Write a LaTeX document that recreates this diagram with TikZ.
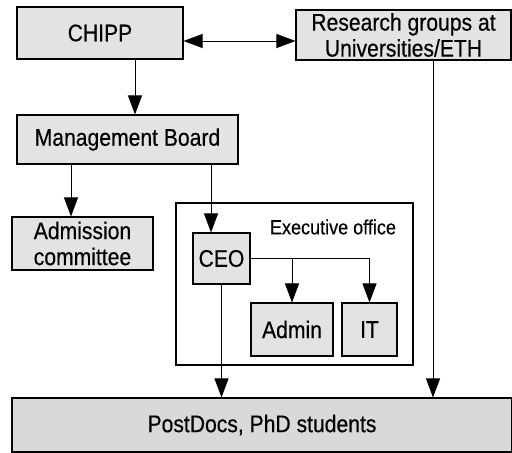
\documentclass[tikz,border=0pt]{standalone}
\usepackage{fontspec}
\setmainfont{Liberation Sans}[FakeStretch=0.88,FakeBold=0.4]
\usetikzlibrary{arrows.meta}
\begin{document}
\begin{tikzpicture}[x=1pt,y=-1pt,
  box/.style={draw=black,line width=1.1pt,fill=gray!22,inner sep=0pt,align=center,
    font=\fontsize{24}{26}\selectfont},
  conn/.style={line width=0.9pt,-{Triangle[width=14pt,length=19pt]}},
  dconn/.style={line width=0.9pt,{Triangle[width=14pt,length=19pt]}-{Triangle[width=14pt,length=19pt]}}]
\useasboundingbox (0,0) rectangle (512,453);
\node[box,minimum width=166pt,minimum height=52pt] (chipp) at (100,33) {CHIPP};
\node[box,minimum width=215pt,minimum height=50pt] (research) at (403.5,35) {Research groups at\\Universities/ETH};
\node[box,minimum width=221pt,minimum height=49pt] (mb) at (127.5,139.5) {Management Board};
\node[box,minimum width=141pt,minimum height=53pt] (adm) at (82.5,243.5) {Admission\\committee};
\node[draw=black,line width=2pt,minimum width=237pt,minimum height=162pt,inner sep=0pt] (exec) at (294.5,284) {};
\node[font=\fontsize{20.5}{23}\selectfont] (execlabel) at (333,227) {Executive office};
\node[box,minimum width=57pt,minimum height=51pt] (ceo) at (221.5,258.5) {CEO};
\node[box,minimum width=82pt,minimum height=53pt] (admin) at (292,329.5) {Admin};
\node[box,minimum width=55pt,minimum height=53pt] (it) at (369.5,329.5) {IT};
\node[box,fill=gray!30,minimum width=500pt,minimum height=54pt] (pd) at (262,425) {PostDocs, PhD students};
\coordinate (ay) at (0,41);
\coordinate (xa) at (135,0);
\coordinate (xb) at (71,0);
\coordinate (xc) at (211,0);
\coordinate (xd) at (433,0);
\draw[dconn] (chipp.east |- ay) -- (research.west |- ay);
\draw[conn] (chipp.south -| xa) -- (mb.north -| xa);
\draw[conn] (mb.south -| xb) -- (adm.north -| xb);
\draw[conn] (mb.south -| xc) -- (ceo.north -| xc);
\draw[line width=0.9pt] (ceo.east) -- (it.north |- ceo.east);
\draw[conn] (it.north |- ceo.east) -- (it.north);
\draw[conn] (admin.north |- ceo.east) -- (admin.north);
\draw[conn] (ceo.south) -- (ceo.south |- pd.north);
\draw[conn] (research.south -| xd) -- (pd.north -| xd);
\end{tikzpicture}
\end{document}
